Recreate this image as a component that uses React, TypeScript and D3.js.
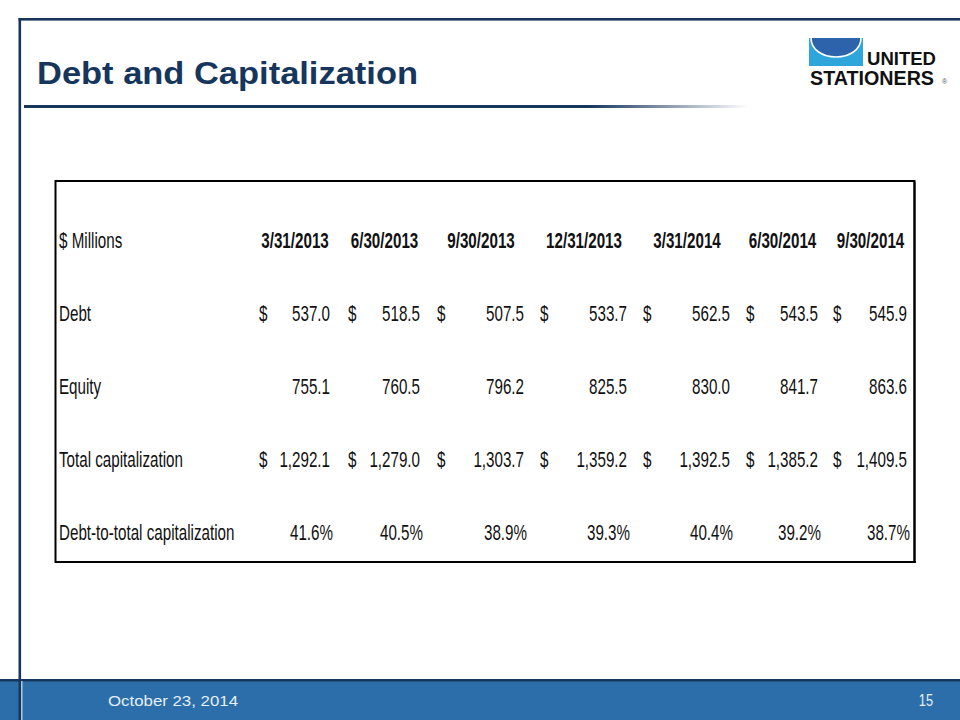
import React from "react";
import * as d3 from "d3";

// ---- data ----
const periods = ["3/31/2013", "6/30/2013", "9/30/2013", "12/31/2013", "3/31/2014", "6/30/2014", "9/30/2014"];
const debt = [537.0, 518.5, 507.5, 533.7, 562.5, 543.5, 545.9];
const equity = [755.1, 760.5, 796.2, 825.5, 830.0, 841.7, 863.6];
const totalCap = [1292.1, 1279.0, 1303.7, 1359.2, 1392.5, 1385.2, 1409.5];
const debtRatio = [41.6, 40.5, 38.9, 39.3, 40.4, 39.2, 38.7];
const rowLabels = ["$ Millions", "Debt", "Equity", "Total capitalization", "Debt-to-total capitalization"];

const title = "Debt and Capitalization";
const footerDate = "October  23, 2014";
const pageNo = "15";

// ---- layout ----
const W = 960;
const H = 720;
const NAVY = "#16365c";
const TEXT = "#111111";
const FONT = "'Liberation Sans', Arial, sans-serif";
const SX = 0.69;
const FS = 22;

// column layout: left edge of "$" and right edge of values
const dollarLeftPos = [259, 348, 437, 540, 643, 746, 833];
const valRight = [330, 420, 524, 627, 730, 818, 907];

const App: React.FC = () => {
  const fmt = d3.format(",.1f");
  const rowKeys = ["header", "debt", "equity", "total", "ratio"];
  const y = d3.scalePoint<string>().domain(rowKeys).range([248, 540]);

  const txt = (
    s: string,
    px: number,
    py: number,
    anchor: "start" | "end" | "middle",
    bold = false,
    key?: string
  ) => (
    <text
      key={key}
      transform={`translate(${px},${py}) scale(${SX},1)`}
      textAnchor={anchor}
      fontFamily={FONT}
      fontSize={FS}
      fontWeight={bold ? "bold" : "normal"}
      fill={TEXT}
    >
      {s}
    </text>
  );

  const valueRows: { key: string; vals: number[]; dollar: boolean; pct: boolean }[] = [
    { key: "debt", vals: debt, dollar: true, pct: false },
    { key: "equity", vals: equity, dollar: false, pct: false },
    { key: "total", vals: totalCap, dollar: true, pct: false },
    { key: "ratio", vals: debtRatio, dollar: false, pct: true },
  ];

  return (
    <svg
      width={W}
      height={H}
      viewBox={`0 0 ${W} ${H}`}
      style={{ position: "absolute", left: 0, top: 0, background: "#fff" }}
    >
      <defs>
        <linearGradient id="uline" x1="24" x2="748" y1="0" y2="0" gradientUnits="userSpaceOnUse">
          <stop offset="0" stopColor={NAVY} />
          <stop offset="0.78" stopColor={NAVY} />
          <stop offset="1" stopColor="#ffffff" />
        </linearGradient>
      </defs>
      <rect x={0} y={0} width={W} height={H} fill="#fff" />

      {/* frame */}
      <rect x={18.5} y={18} width={W - 18.5} height={2.6} fill={NAVY} />
      <rect x={18.5} y={18} width={2.6} height={H - 18} fill={NAVY} />

      {/* title */}
      <text
        x={37}
        y={84}
        fontFamily={FONT}
        fontSize={31}
        fontWeight="bold"
        fill={NAVY}
        textLength={381}
        lengthAdjust="spacingAndGlyphs"
      >
        {title}
      </text>
      <rect x={24} y={105} width={724} height={3} fill="url(#uline)" />

      {/* logo */}
      <g>
        <rect x={809} y={38} width={54} height={28} fill="#2ea6dc" />
        <path
          d="M 811 38 L 861 38 C 861 50 849 57 836 57 C 823 57 811 50 811 38 Z"
          fill="#2c63aa"
        />
        <path
          d="M 861 38 C 861 50 849 57 836 57 C 823 57 811 50 811 38"
          fill="none"
          stroke="#ffffff"
          strokeWidth={1.6}
        />
        <text
          x={867}
          y={64.5}
          fontFamily={FONT}
          fontSize={18.5}
          fontWeight="900"
          fill="#111"
          textLength={69}
          lengthAdjust="spacingAndGlyphs"
        >
          UNITED
        </text>
        <text
          x={810}
          y={84.5}
          fontFamily={FONT}
          fontSize={21}
          fontWeight="900"
          fill="#111"
          textLength={124}
          lengthAdjust="spacingAndGlyphs"
        >
          STATIONERS
        </text>
        <text x={942} y={83.5} fontFamily={FONT} fontSize={7} fill="#555">
          ®
        </text>
      </g>

      {/* table box */}
      <rect x={55.5} y={181} width={859} height={381} fill="#fff" stroke="#000" strokeWidth={2} />
      <rect x={913.5} y={182} width={2} height={381} fill="#000" />
      <rect x={56} y={561} width={860} height={2} fill="#000" />

      {/* row labels */}
      {rowLabels.map((l, i) => txt(l, 59, y(rowKeys[i])!, "start", false, "lbl" + i))}

      {/* headers */}
      {periods.map((p, i) =>
        txt(p, (dollarLeftPos[i] + valRight[i]) / 2 + 0.5, y("header")!, "middle", true, "h" + i)
      )}

      {/* values */}
      {valueRows.map((r) =>
        r.vals.map((v, i) => (
          <g key={r.key + i}>
            {r.dollar && txt("$", dollarLeftPos[i], y(r.key)!, "start", false)}
            {txt(
              r.pct ? fmt(v) + "%" : fmt(v),
              valRight[i] + (r.pct ? 3 : 0),
              y(r.key)!,
              "end",
              false
            )}
          </g>
        ))
      )}

      {/* footer */}
      <rect x={0} y={680} width={W} height={40} fill="#2b6ea9" />
      <rect x={0} y={679} width={W} height={2.5} fill={NAVY} />
      <rect x={21} y={681} width={1.5} height={39} fill="#ffffff" opacity={0.7} />
      <rect x={18.5} y={679} width={2.6} height={41} fill={NAVY} />
      <text
        x={108}
        y={706}
        fontFamily={FONT}
        fontSize={15}
        fill="#e6eef6"
        textLength={130}
        lengthAdjust="spacingAndGlyphs"
      >
        {footerDate}
      </text>
      <text
        transform="translate(933,706) scale(0.8,1)"
        fontFamily={FONT}
        fontSize={16}
        fill="#e6eef6"
        textAnchor="end"
      >
        {pageNo}
      </text>
    </svg>
  );
};

export default App;
